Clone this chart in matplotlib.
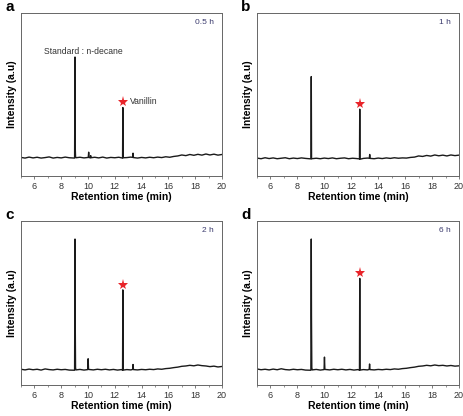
import matplotlib
matplotlib.use('Agg')
import matplotlib.pyplot as plt
from matplotlib.ticker import MultipleLocator

plt.rcParams['font.family'] = ['Liberation Sans', 'DejaVu Sans']

# Retention time (min) and intensity (a.u.) for each panel
a_t = [5.0, 5.3, 5.6, 5.9, 6.2, 6.5, 6.8, 7.1, 7.4, 7.7, 8.0, 8.3, 8.6, 9.0,
       9.03, 9.045, 9.07, 9.1, 9.4, 9.7, 10.02, 10.05, 10.08, 10.18, 10.2, 10.22, 10.5,
       10.8, 11.1, 11.4, 11.7, 12.0, 12.3, 12.58, 12.6, 12.62, 12.9, 13.2, 13.33,
       13.36, 13.39, 13.7, 14.0, 14.3, 14.6, 14.9, 15.2, 15.5, 15.8, 16.1, 16.4,
       16.7, 17.0, 17.3, 17.6, 17.9, 18.2, 18.5, 18.8, 19.1, 19.4, 19.7, 20.0]
a_y = [11.4, 11.0, 11.6, 11.1, 11.5, 11.0, 11.3, 11.7, 11.0, 11.4, 11.1, 11.6, 11.2, 11.0,
       73.0, 18.0, 12.0, 11.2, 11.5, 11.1, 11.4, 14.6, 11.3, 11.2, 12.5, 11.2, 11.5,
       11.1, 11.6, 11.0, 11.4, 11.2, 11.5, 11.0, 42.0, 11.2, 11.3, 11.6, 11.4,
       14.0, 11.3, 11.0, 11.4, 11.1, 11.5, 11.2, 11.6, 11.3, 11.8, 11.5, 12.0,
       12.3, 12.9, 12.5, 13.2, 12.7, 13.3, 12.8, 13.5, 12.9, 13.4, 12.8, 13.2]

b_t = [5.0, 5.3, 5.6, 5.9, 6.2, 6.5, 6.8, 7.1, 7.4, 7.7, 8.0, 8.3, 8.6, 9.01,
       9.03, 9.05, 9.4, 9.7, 10.0, 10.3, 10.6, 10.9, 11.2, 11.5, 11.8, 12.1,
       12.4, 12.61, 12.63, 12.65, 12.9, 13.2, 13.34, 13.37, 13.4, 13.7, 14.0,
       14.3, 14.6, 14.9, 15.2, 15.5, 15.8, 16.1, 16.4, 16.7, 17.0, 17.3, 17.6,
       17.9, 18.2, 18.5, 18.8, 19.1, 19.4, 19.7, 20.0]
b_y = [11.0, 10.6, 11.2, 10.7, 11.1, 10.6, 10.9, 11.2, 10.6, 11.0, 10.7, 11.1, 10.8, 10.5,
       61.0, 10.6, 10.9, 10.6, 11.0, 10.7, 11.1, 10.6, 10.9, 11.1, 10.6, 10.9,
       10.7, 10.5, 41.0, 10.3, 10.8, 11.0, 10.9, 13.2, 10.8, 10.6, 11.0,
       10.7, 11.1, 10.8, 11.2, 10.9, 11.1, 11.0, 11.4, 11.6, 12.3, 12.0, 12.6,
       12.2, 12.9, 12.4, 12.8, 12.3, 12.9, 12.5, 12.8]

c_t = [5.0, 5.3, 5.6, 5.9, 6.2, 6.5, 6.8, 7.1, 7.4, 7.7, 8.0, 8.3, 8.6, 9.0,
       9.03, 9.045, 9.07, 9.1, 9.4, 9.7, 9.98, 10.01, 10.04, 10.4, 10.7, 11.0,
       11.3, 11.6, 11.9, 12.2, 12.5, 12.58, 12.6, 12.62, 12.9, 13.2, 13.33,
       13.36, 13.39, 13.7, 14.0, 14.3, 14.6, 14.9, 15.2, 15.5, 15.8, 16.1, 16.4,
       16.7, 17.0, 17.3, 17.6, 17.9, 18.2, 18.5, 18.8, 19.1, 19.4, 19.7, 20.0]
c_y = [9.6, 9.2, 9.7, 9.3, 9.6, 9.1, 9.8, 9.4, 9.2, 9.6, 9.3, 9.5, 9.1, 9.0,
       89.0, 42.0, 10.5, 9.2, 9.5, 9.1, 9.4, 16.0, 9.5, 9.2, 9.6, 9.3,
       9.6, 9.2, 9.5, 9.1, 9.4, 9.0, 58.0, 9.1, 9.4, 9.2, 9.5,
       12.5, 9.4, 9.2, 9.5, 9.3, 9.6, 9.4, 9.8, 9.6, 10.0, 10.2, 10.6,
       10.9, 11.4, 11.6, 12.0, 11.7, 12.2, 11.8, 11.6, 11.2, 11.5, 11.0, 11.3]

d_t = [5.0, 5.3, 5.6, 5.9, 6.2, 6.5, 6.8, 7.1, 7.4, 7.7, 8.0, 8.3, 8.6, 9.0,
       9.03, 9.045, 9.07, 9.1, 9.4, 9.7, 9.98, 10.01, 10.04, 10.4, 10.7, 11.0,
       11.3, 11.6, 11.9, 12.2, 12.5, 12.61, 12.63, 12.65, 12.9, 13.2, 13.33,
       13.36, 13.39, 13.7, 14.0, 14.3, 14.6, 14.9, 15.2, 15.5, 15.8, 16.1, 16.4,
       16.7, 17.0, 17.3, 17.6, 17.9, 18.2, 18.5, 18.8, 19.1, 19.4, 19.7, 20.0]
d_y = [9.8, 9.3, 9.6, 9.2, 9.7, 9.3, 9.9, 9.4, 9.2, 9.6, 9.3, 9.5, 9.1, 9.0,
       89.0, 42.0, 10.5, 9.2, 9.5, 9.1, 9.4, 17.0, 9.5, 9.2, 9.6, 9.3,
       9.6, 9.2, 9.5, 9.1, 9.4, 9.0, 65.0, 9.1, 9.4, 9.2, 9.5,
       12.8, 9.4, 9.2, 9.5, 9.3, 9.6, 9.4, 9.8, 9.6, 10.0, 10.2, 10.6,
       10.9, 11.4, 11.6, 12.0, 11.7, 12.2, 11.8, 12.0, 11.6, 11.9, 11.5, 11.7]

panel_letters = ['a', 'b', 'c', 'd']
times = ['0.5 h', '1 h', '2 h', '6 h']
traces = [(a_t, a_y), (b_t, b_y), (c_t, c_y), (d_t, d_y)]
star_x = [12.6, 12.63, 12.6, 12.63]
star_y = [45.5, 44.0, 61.0, 68.0]

fig = plt.figure(figsize=(4.64, 4.16), dpi=100)
# axes boxes in figure pixels: left, right, top, bottom
boxes = [(21, 222, 13, 176), (257, 459, 13, 176),
         (21, 222, 221, 385), (257, 459, 221, 385)]
W, H = 464, 416
frame = '#666666'

for i, (l, r, t, b) in enumerate(boxes):
    ax = fig.add_axes([l / W, 1 - b / H, (r - l) / W, (b - t) / H])
    x, y = traces[i]
    ax.plot(x, y, color='#1a1a1a', lw=1.0)
    ax.plot(star_x[i], star_y[i], marker='*', color='#e8242a', ms=8,
            markeredgewidth=0)
    ax.set_xlim(5, 20)
    ax.set_ylim(0, 100)
    ax.xaxis.set_major_locator(MultipleLocator(2))
    ax.xaxis.set_minor_locator(MultipleLocator(1))
    ax.set_yticks([])
    ax.tick_params(axis='x', which='major', direction='out', length=2.5,
                   width=0.6, colors=frame, labelsize=6.5, pad=1.5,
                   labelcolor='#333333')
    ax.tick_params(axis='x', which='minor', direction='out', length=1.5,
                   width=0.5, colors=frame)
    for s in ax.spines.values():
        s.set_color(frame)
        s.set_linewidth(0.7)
    ax.set_xlabel('Retention time (min)', fontsize=7.5, fontweight='bold',
                  labelpad=1)
    ax.set_ylabel('Intensity (a.u)', fontsize=7.5, fontweight='bold', labelpad=3)
    ax.text(0.96, 0.94, times[i], transform=ax.transAxes, ha='right',
            va='center', fontsize=6, color='#3b3b6e')
    fig.text((l - 16) / W, 1 - (t - 6) / H, panel_letters[i], fontsize=11,
             fontweight='bold', ha='left', va='center')
    if i == 0:
        ax.text(9.65, 76.5, 'Standard : n-decane', ha='center', va='center',
                fontsize=6.2, color='#333333')
        ax.text(13.1, 45.5, 'Vanillin', ha='left', va='center',
                fontsize=6.2, color='#333333')

fig.savefig('out.png', dpi=100)
